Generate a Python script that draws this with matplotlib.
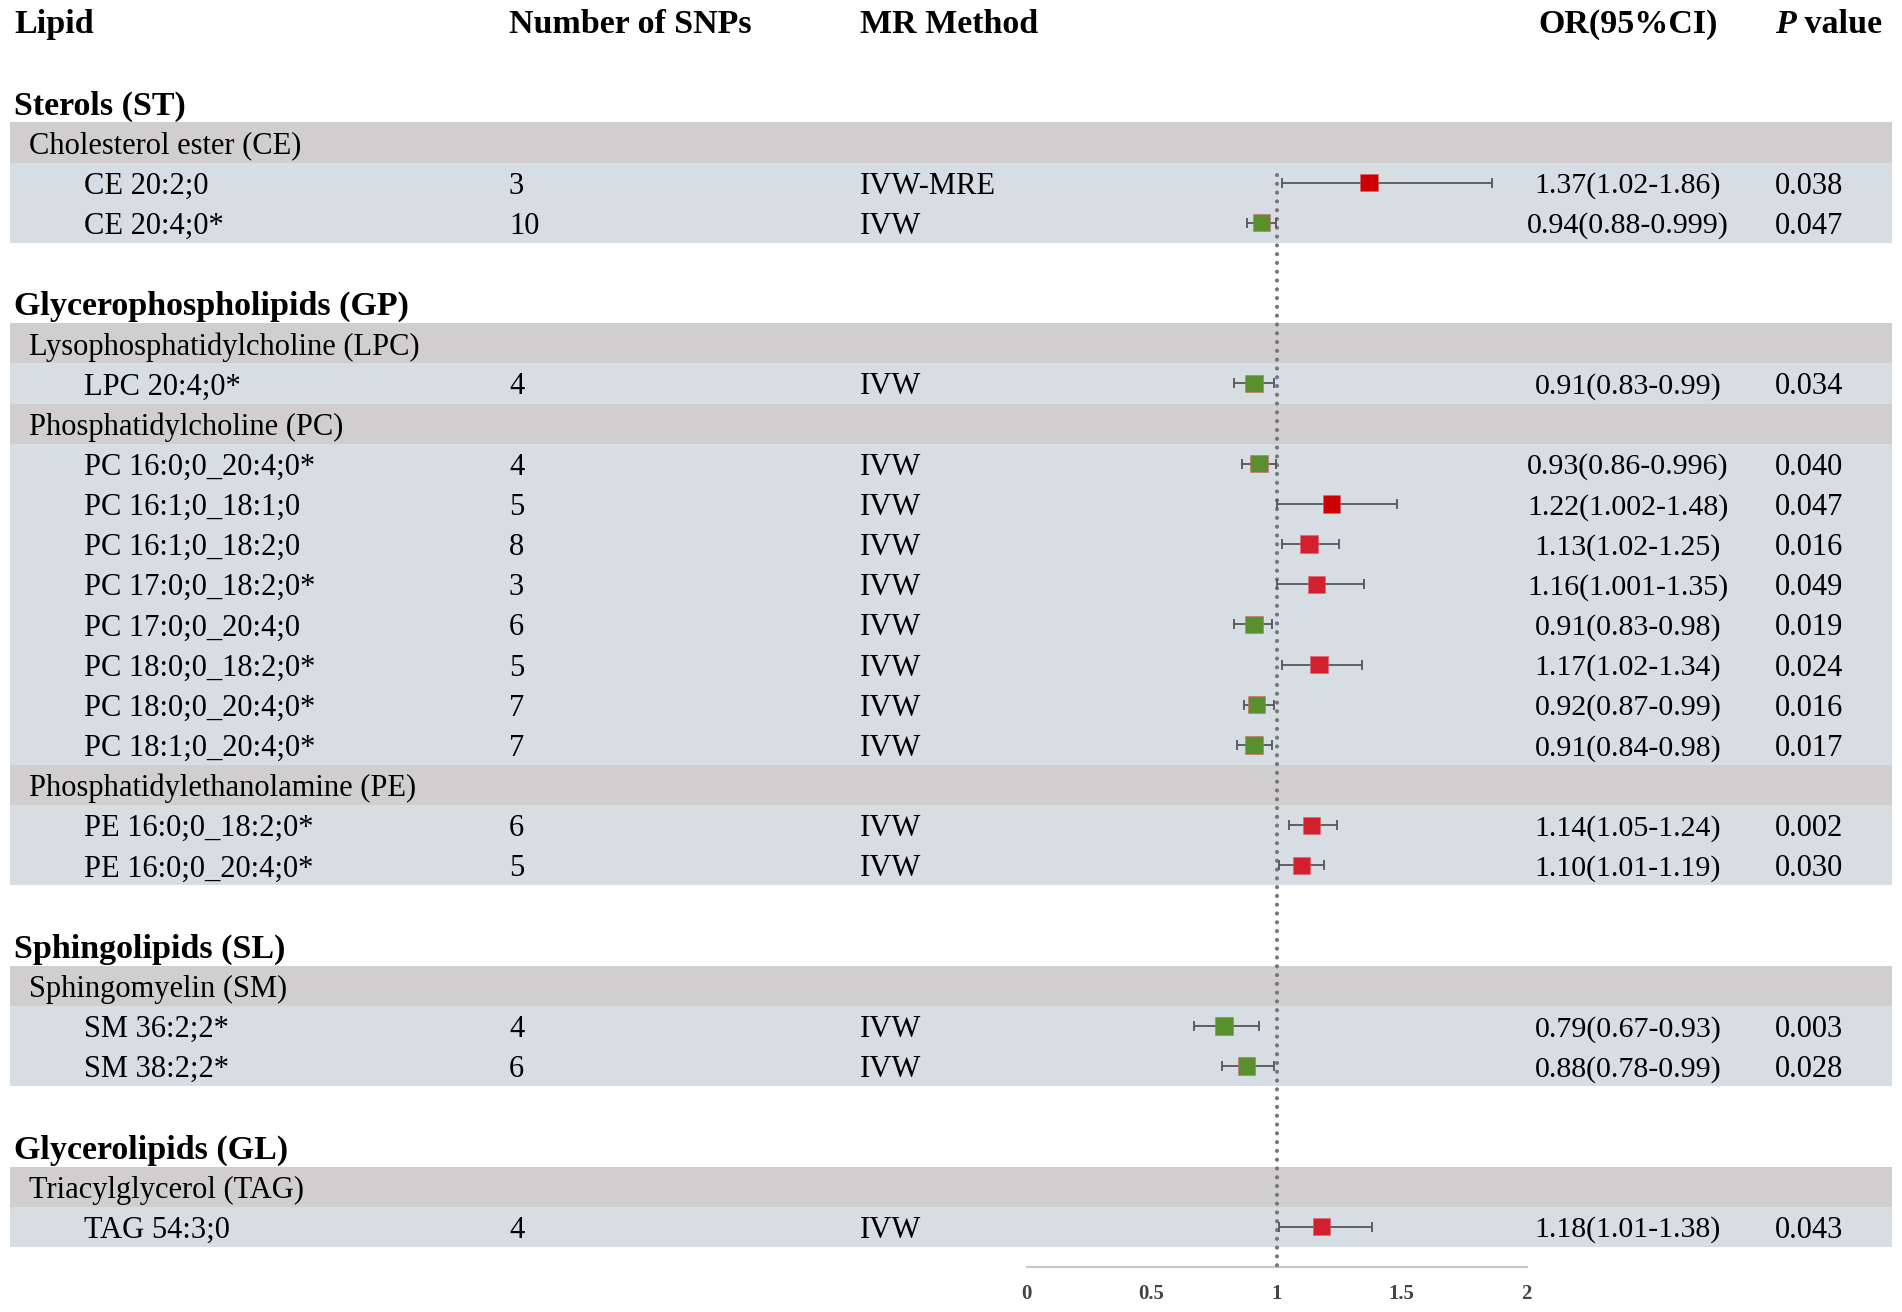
import matplotlib.pyplot as plt
from matplotlib import transforms

plt.rcParams['font.family'] = ['Liberation Serif', 'DejaVu Serif']

# table data, one entry per lipid
lipids = ["CE 20:2;0", "CE 20:4;0*", "LPC 20:4;0*",
          "PC 16:0;0_20:4;0*", "PC 16:1;0_18:1;0", "PC 16:1;0_18:2;0",
          "PC 17:0;0_18:2;0*", "PC 17:0;0_20:4;0", "PC 18:0;0_18:2;0*",
          "PC 18:0;0_20:4;0*", "PC 18:1;0_20:4;0*",
          "PE 16:0;0_18:2;0*", "PE 16:0;0_20:4;0*",
          "SM 36:2;2*", "SM 38:2;2*", "TAG 54:3;0"]
lipid_class = ["Sterols (ST)"] * 2 + ["Glycerophospholipids (GP)"] * 11 + \
              ["Sphingolipids (SL)"] * 2 + ["Glycerolipids (GL)"]
subclass = ["Cholesterol ester (CE)"] * 2 + ["Lysophosphatidylcholine (LPC)"] + \
           ["Phosphatidylcholine (PC)"] * 8 + ["Phosphatidylethanolamine (PE)"] * 2 + \
           ["Sphingomyelin (SM)"] * 2 + ["Triacylglycerol (TAG)"]
n_snps = [3, 10, 4, 4, 5, 8, 3, 6, 5, 7, 7, 6, 5, 4, 6, 4]
methods = ["IVW-MRE"] + ["IVW"] * 15
or_vals = [1.37, 0.94, 0.91, 0.93, 1.22, 1.13, 1.16, 0.91, 1.17, 0.92, 0.91, 1.14, 1.10, 0.79, 0.88, 1.18]
ci_low = [1.02, 0.88, 0.83, 0.86, 1.002, 1.02, 1.001, 0.83, 1.02, 0.87, 0.84, 1.05, 1.01, 0.67, 0.78, 1.01]
ci_high = [1.86, 0.999, 0.99, 0.996, 1.48, 1.25, 1.35, 0.98, 1.34, 0.99, 0.98, 1.24, 1.19, 0.93, 0.99, 1.38]
ci_text = ["1.37(1.02-1.86)", "0.94(0.88-0.999)", "0.91(0.83-0.99)", "0.93(0.86-0.996)",
           "1.22(1.002-1.48)", "1.13(1.02-1.25)", "1.16(1.001-1.35)", "0.91(0.83-0.98)",
           "1.17(1.02-1.34)", "0.92(0.87-0.99)", "0.91(0.84-0.98)", "1.14(1.05-1.24)",
           "1.10(1.01-1.19)", "0.79(0.67-0.93)", "0.88(0.78-0.99)", "1.18(1.01-1.38)"]
p_text = ["0.038", "0.047", "0.034", "0.040", "0.047", "0.016", "0.049", "0.019",
          "0.024", "0.016", "0.017", "0.002", "0.030", "0.003", "0.028", "0.043"]
x_ticks = [0, 0.5, 1, 1.5, 2]
x_tick_labels = ["0", "0.5", "1", "1.5", "2"]

# colours
band_sub = '#D0CECF'
band_row = '#D6DDE3'
red = '#D2202F'
dark_red = '#CC0000'
green = '#5A8F2D'
dark_red_rows = {"CE 20:2;0", "PC 16:1;0_18:1;0"}

# work out row positions (row 0 = header)
class_rows, sub_rows, lipid_rows = [], [], []
y = 0
prev_cls = prev_sub = None
for i in range(len(lipids)):
    if lipid_class[i] != prev_cls:
        y += 2
        class_rows.append((y, lipid_class[i]))
        prev_cls, prev_sub = lipid_class[i], None
    if subclass[i] != prev_sub:
        y += 1
        sub_rows.append((y, subclass[i]))
        prev_sub = subclass[i]
    y += 1
    lipid_rows.append(y)
axis_row = y + 1

W, H = 1902, 1312
top = 22      # pixel of row 0
step = 40.16  # pixels per row
fig = plt.figure(figsize=(W / 100, H / 100), dpi=100)
ax = fig.add_axes([0, 0, 1, 1])
# x in OR units (0 at px 1026.5, 250 px per unit), y in rows
ax.set_xlim(-1026.5 / 250, (W - 1026.5) / 250)
ax.set_ylim((H - top) / step, -top / step)
ax.axis('off')

tr = transforms.blended_transform_factory(fig.transFigure, ax.transData)
bx0, bx1 = 10 / W, 1892 / W

# background bands
for r, _ in sub_rows:
    ax.axhspan(r - 0.5, r + 0.5, xmin=bx0, xmax=bx1, color=band_sub, lw=0, zorder=0)
for r in lipid_rows:
    ax.axhspan(r - 0.5, r + 0.5, xmin=bx0, xmax=bx1, color=band_row, lw=0, zorder=0)

# header
hfs = 24.5
head_y = -0.02
ax.text(14 / W, head_y, "Lipid", transform=tr, fontsize=hfs, fontweight='bold', va='center_baseline')
ax.text(509 / W, head_y, "Number of SNPs", transform=tr, fontsize=hfs, fontweight='bold', va='center_baseline')
ax.text(860 / W, head_y, "MR Method", transform=tr, fontsize=hfs, fontweight='bold', va='center_baseline')
ax.text(1628 / W, head_y, "OR(95%CI)", transform=tr, fontsize=hfs, fontweight='bold',
        va='center_baseline', ha='center')
ptxt = ax.text(1775 / W, head_y, "P", transform=tr, fontsize=hfs, fontweight='bold',
               fontstyle='italic', va='center_baseline')
ax.annotate(" value", xy=(1, 0), xycoords=ptxt, fontsize=hfs, fontweight='bold', va='bottom')

for r, name in class_rows:
    ax.text(14 / W, r, name, transform=tr, fontsize=hfs, fontweight='bold', va='center_baseline')
for r, name in sub_rows:
    ax.text(29 / W, r, name, transform=tr, fontsize=22, va='center_baseline')

fs = 22
for i, r in enumerate(lipid_rows):
    ax.text(84 / W, r, lipids[i], transform=tr, fontsize=fs, va='center_baseline')
    ax.text(509 / W, r, str(n_snps[i]), transform=tr, fontsize=fs, va='center_baseline')
    ax.text(860 / W, r, methods[i], transform=tr, fontsize=fs, va='center_baseline')
    ax.text(1628 / W, r, ci_text[i], transform=tr, fontsize=21.5, va='center_baseline', ha='center')
    ax.text(1775 / W, r, p_text[i], transform=tr, fontsize=fs, va='center_baseline')

# reference line
ax.plot([1, 1], [3.8, axis_row], color='#777777', lw=3,
        linestyle=(0, (0.01, 2.1)), dash_capstyle='round', zorder=2)

# confidence intervals and point estimates
xerr = [[o - l for o, l in zip(or_vals, ci_low)], [h - o for o, h in zip(or_vals, ci_high)]]
ax.errorbar(or_vals, lipid_rows, xerr=xerr, fmt='none', ecolor='#555555',
            elinewidth=1.3, capsize=3.5, capthick=1.3, zorder=3)
colors = []
for name, o in zip(lipids, or_vals):
    if o < 1:
        colors.append(green)
    elif name in dark_red_rows:
        colors.append(dark_red)
    else:
        colors.append(red)
ax.scatter(or_vals, lipid_rows, marker='s', s=12.5 ** 2, c=colors,
           edgecolors='#E06070', linewidths=0.4, zorder=4)

# x axis
ax.plot([x_ticks[0], x_ticks[-1]], [axis_row, axis_row], color='#C8C8C8', lw=1.6, zorder=1)
for t, lab in zip(x_ticks, x_tick_labels):
    ax.text(t, axis_row + 0.62, lab, fontsize=15, fontweight='bold', color='#444444',
            ha='center', va='center_baseline')

fig.savefig('out.png', dpi=100)
